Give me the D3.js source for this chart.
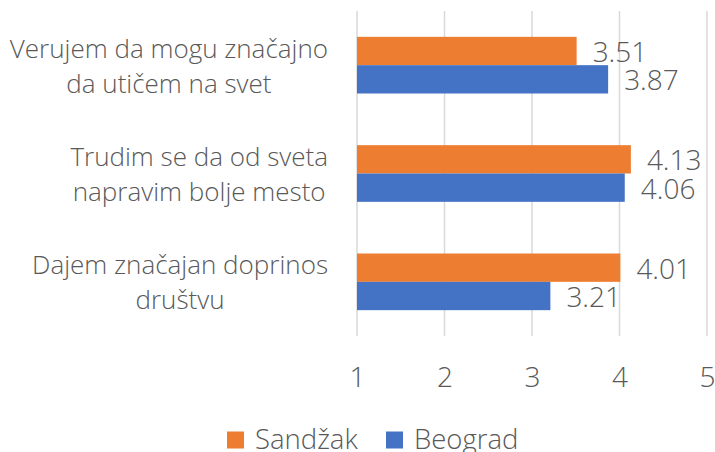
<!DOCTYPE html>
<html>
<head>
<meta charset="utf-8">
<script src="https://cdn.jsdelivr.net/npm/d3@7"></script>
<style>
  body { margin: 0; background: #fff; }
  text { font-family: "Open Sans", "Segoe UI", sans-serif; font-weight: 300; fill: #595959; }
</style>
</head>
<body>
<script>
var categories = [
  ['Verujem da mogu značajno', 'da utičem na svet'],
  ['Trudim se da od sveta', 'napravim bolje mesto'],
  ['Dajem značajan doprinos', 'društvu']
];
var seriesNames = ['Sandžak', 'Beograd'];
var sandzak = [3.51, 4.13, 4.01];
var beograd = [3.87, 4.06, 3.21];
var ticks = [1, 2, 3, 4, 5];

var colors = ['#ED7D31', '#4472C4'];

var w = 715;
var h = 452;
var fontSize = 28;
var catFontSize = 26;

var svg = d3.select('body')
  .append('svg')
  .attr('width', w)
  .attr('height', h);

/* ===== scales ===== */

var xScale = d3.scaleLinear()
  .domain([1, 5])
  .range([357, 707]);

var yScale = d3.scaleBand()
  .domain(d3.range(categories.length))
  .range([11, 336])
  .paddingInner(0.477)
  .paddingOuter(0.2385);

var sub = d3.scaleBand()
  .domain(d3.range(seriesNames.length))
  .range([0, yScale.bandwidth()]);

/* ===== grid ===== */

svg.selectAll('line.grid').data(ticks)
  .enter()
  .append('line')
  .attr('class', 'grid')
  .attr('x1', function(d) { return xScale(d); })
  .attr('x2', function(d) { return xScale(d); })
  .attr('y1', 11)
  .attr('y2', 336)
  .attr('stroke', '#d9d9d9')
  .attr('stroke-width', 1.5);

var xAxis = d3.axisBottom(xScale)
  .tickValues(ticks)
  .tickSize(0)
  .tickPadding(0)
  .tickFormat(d3.format('d'));

var ax = svg.append('g')
  .attr('transform', 'translate(0,' + 336 + ')')
  .call(xAxis);
ax.select('.domain').remove();
ax.selectAll('text')
  .attr('dy', null)
  .attr('y', 51)
  .style('font-size', fontSize + 'px');

/* ===== bars ===== */

var rows = categories.map(function(c, i) {
  return [sandzak[i], beograd[i]];
});

var groups = svg.selectAll('g.group').data(rows)
  .enter()
  .append('g')
  .attr('class', 'group')
  .attr('transform', function(d, i) { return 'translate(0,' + yScale(i) + ')'; });

groups.selectAll('rect').data(function(d) { return d; })
  .enter()
  .append('rect')
  .attr('x', xScale(1))
  .attr('y', function(d, j) { return sub(j); })
  .attr('width', function(d) { return xScale(d) - xScale(1); })
  .attr('height', sub.bandwidth())
  .attr('fill', function(d, j) { return colors[j]; });

groups.selectAll('text.val').data(function(d) { return d; })
  .enter()
  .append('text')
  .attr('class', 'val')
  .attr('x', function(d) { return xScale(d) + 16; })
  .attr('y', function(d, j) { return sub(j) + sub.bandwidth() / 2 + 11; })
  .style('font-size', fontSize + 'px')
  .text(function(d) { return d.toFixed(2); });

/* ===== category labels ===== */

var lineH = 35;
categories.forEach(function(lines, i) {
  var g = svg.append('g');
  var cy = yScale(i) + yScale.bandwidth() / 2;
  var top = cy - (lines.length * lineH) / 2;
  var texts = g.selectAll('text').data(lines)
    .enter()
    .append('text')
    .attr('text-anchor', 'middle')
    .attr('y', function(d, k) { return top + k * lineH + lineH / 2 + 10; })
    .style('font-size', catFontSize + 'px')
    .text(function(d) { return d; });
  var maxW = d3.max(texts.nodes(), function(n) { return n.getComputedTextLength(); });
  texts.attr('x', 328 - maxW / 2);
});

/* ===== legend ===== */

var legendX = [227, 386];
var leg = svg.selectAll('g.legend').data(seriesNames)
  .enter()
  .append('g')
  .attr('class', 'legend')
  .attr('transform', function(d, i) { return 'translate(' + legendX[i] + ',431.5)'; });

leg.append('rect')
  .attr('width', 17)
  .attr('height', 17)
  .attr('fill', function(d, i) { return colors[i]; });

leg.append('text')
  .attr('x', 28)
  .attr('y', 17)
  .style('font-size', (fontSize - 0.5) + 'px')
  .text(function(d) { return d; });
</script>
</body>
</html>
